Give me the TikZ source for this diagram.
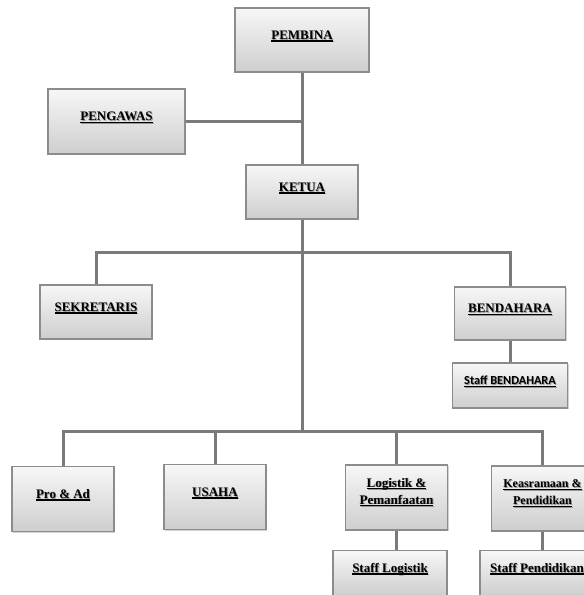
\documentclass[tikz,border=0pt]{standalone}
\usepackage{fontspec}
\setmainfont{Liberation Serif}
\newfontfamily\calibri{Carlito}
\usetikzlibrary{shadows}
\usetikzlibrary{calc}

\definecolor{garisabu}{RGB}{122,122,122}
\definecolor{tepikotak}{RGB}{140,140,140}
\definecolor{atas}{RGB}{247,247,247}
\definecolor{bawah}{RGB}{206,206,206}
\definecolor{bayang}{RGB}{150,150,150}

% teks tebal bergaris bawah dengan bayangan
\newcommand{\garisbawah}[1]{\setbox0\hbox{#1}\rlap{\rule[-2.3pt]{\wd0}{1.1pt}}\box0}
\newcommand{\judul}[1]{\rlap{\hspace{0.9pt}\raisebox{-0.9pt}{\color{bayang}\garisbawah{#1}}}\garisbawah{#1}}

\begin{document}
\begin{tikzpicture}[x=1pt,y=-1pt,
	kotak/.style={draw=tepikotak,line width=1.1pt,top color=atas,bottom color=bawah,
		drop shadow={shadow xshift=1.2pt,shadow yshift=-1.4pt,opacity=.35},
		minimum width=102,minimum height=65,inner sep=0pt,align=center,
		font=\bfseries\fontsize{13}{17}\selectfont,text height=9pt,text depth=10.5pt},
	duabaris/.style={text height={},text depth={}},
	staf/.style={kotak,minimum width=114,minimum height=45},
	garis/.style={draw=garisabu,line width=3pt}]
	\useasboundingbox (0,0) rectangle (584,595);

	% pengurus inti
	\node[kotak,minimum width=134,minimum height=64] (pembina) at (302,40) {\judul{PEMBINA}};
	\node[kotak,minimum width=137] (pengawas) at (116.5,121.5) {\judul{PENGAWAS}};
	\node[kotak,minimum width=112,minimum height=54] (ketua) at (302,192) {\judul{KETUA}};
	\node[kotak,minimum width=112,minimum height=54] (sekretaris) at (96,312) {\judul{SEKRETARIS}};
	\node[kotak,minimum width=111,minimum height=53] (bendahara) at (510,313.5) {\judul{BENDAHARA}};
	\node[staf,minimum width=115,font=\calibri\bfseries\fontsize{12.3}{14}\selectfont] (stafbendahara) at (510,385.5) {\judul{Staff BENDAHARA}};

	% bidang
	\node[kotak] (proad) at (63,499) {\judul{Pro \& Ad}};
	\node[kotak] (usaha) at (215,497) {\judul{USAHA}};
	\node[kotak,duabaris] (logistik) at (396.5,497.5) {\judul{Logistik \&}\\\judul{Pemanfaatan}\rule[-13pt]{0pt}{1pt}};
	\node[kotak,duabaris,font=\bfseries\fontsize{12}{17}\selectfont] (keasramaan) at (542.5,498.5) {\judul{Keasramaan \&}\\\judul{Pendidikan}\rule[-13pt]{0pt}{1pt}};
	\node[staf] (staflogistik) at (390,573) {\judul{Staff Logistik}};
	\node[staf] (stafpendidikan) at (537,573) {\judul{Staff Pendidikan}};

	\coordinate (simpul1) at (302,252);
	\coordinate (simpul2) at (302,431);

	\draw[garis] (pembina) -- (ketua);
	\draw[garis] (pengawas) -- (pengawas -| pembina);
	\draw[garis] (ketua) -- (simpul2);
	\draw[garis] (sekretaris) |- (simpul1) -| (bendahara);
	\draw[garis] (bendahara) -- (stafbendahara);
	\draw[garis] (proad) |- (simpul2) -| (keasramaan);
	\foreach \bidang in {usaha,logistik} {
		\draw[garis] (\bidang) -- (\bidang |- simpul2);
	}
	\draw[garis] (logistik) -- (logistik |- staflogistik.north);
	\draw[garis] (keasramaan) -- (keasramaan |- stafpendidikan.north);
\end{tikzpicture}
\end{document}
